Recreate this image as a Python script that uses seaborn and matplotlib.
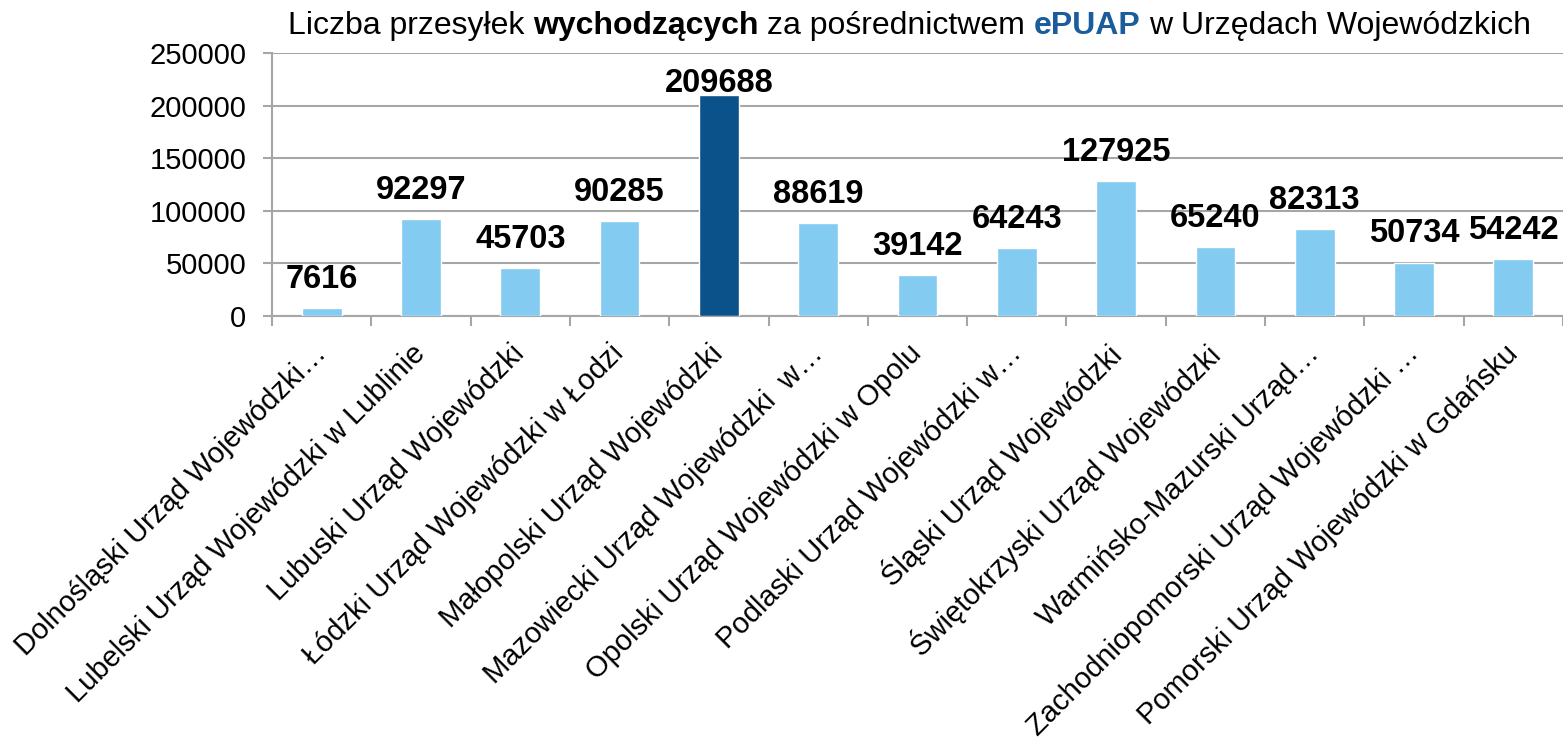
import numpy as np
import pandas as pd
import matplotlib
matplotlib.use("Agg")
import matplotlib.pyplot as plt
import seaborn as sns

# ==============================
# DATA
# ==============================
urzedy = [
    "Dolnośląski Urząd Wojewódzki…",
    "Lubelski Urząd Wojewódzki w Lublinie",
    "Lubuski Urząd Wojewódzki",
    "Łódzki Urząd Wojewódzki w Łodzi",
    "Małopolski Urząd Wojewódzki",
    "Mazowiecki Urząd Wojewódzki  w…",
    "Opolski Urząd Wojewódzki w Opolu",
    "Podlaski Urząd Wojewódzki w…",
    "Śląski Urząd Wojewódzki",
    "Świętokrzyski Urząd Wojewódzki",
    "Warmińsko-Mazurski Urząd…",
    "Zachodniopomorski Urząd Wojewódzki …",
    "Pomorski Urząd Wojewódzki w Gdańsku",
]
przesylki = [7616, 92297, 45703, 90285, 209688, 88619, 39142,
             64243, 127925, 65240, 82313, 50734, 54242]
wyrozniony = "Małopolski Urząd Wojewódzki"

y_ticks = [0, 50000, 100000, 150000, 200000, 250000]

title_parts = [
    ("Liczba przesyłek", "normal", "black"),
    ("wychodzących", "bold", "black"),
    ("za pośrednictwem", "normal", "black"),
    ("ePUAP", "bold", "#1B5D9C"),
    ("w Urzędach Wojewódzkich", "normal", "black"),
]

light_blue = "#83CBF1"
dark_blue = "#0B518A"
grey = "#A6A6A6"

# ==============================
# STYLE
# ==============================
sns.set_theme(style="white")
plt.rcParams['font.family'] = ['Liberation Sans', 'DejaVu Sans']

df = pd.DataFrame({'urzad': urzedy, 'liczba': przesylki})
palette = {u: (dark_blue if u == wyrozniony else light_blue) for u in urzedy}

fig = plt.figure(figsize=(15.63, 7.4), dpi=100)
ax = fig.add_axes([272 / 1563, 1 - 316 / 740, 1 - 272 / 1563, (316 - 53) / 740])

# ==============================
# BARS
# ==============================
sns.barplot(data=df, x='urzad', y='liczba', hue='urzad', palette=palette,
            width=0.4, legend=False, ax=ax, edgecolor='white', linewidth=1,
            saturation=1, zorder=3)

for cont, u, v in zip(ax.containers, urzedy, przesylki):
    pad = -2.5 if u == wyrozniony else 9.5
    ax.bar_label(cont, labels=[str(v)], padding=pad, fontsize=23.5,
                 fontweight='bold', color='black')

# ==============================
# AXES
# ==============================
ax.set_xlim(-0.5, len(urzedy) - 0.5)
ax.set_ylim(0, 250000)
ax.set_yticks(y_ticks)
ax.set_yticklabels([str(t) for t in y_ticks], fontsize=21, color='black')
ax.set_xticks(range(len(urzedy)))
ax.set_xticklabels(urzedy, rotation=45, ha='right', va='center',
                   rotation_mode='anchor', fontsize=21, color='black')
ax.set_xticks(np.arange(-0.5, len(urzedy), 1), minor=True)
ax.tick_params(axis='x', which='major', length=0, pad=24)
ax.tick_params(axis='x', which='minor', length=7, width=1.5, color=grey,
               direction='out', bottom=True)
ax.tick_params(axis='y', length=6.5, width=1.5, color=grey, pad=12,
               direction='out', left=True)
ax.set_xlabel("")
ax.set_ylabel("")

ax.yaxis.grid(True, color=grey, linewidth=1.5)
ax.set_axisbelow(True)
for side in ['top', 'right']:
    ax.spines[side].set_visible(False)
for side in ['left', 'bottom']:
    ax.spines[side].set_color(grey)
    ax.spines[side].set_linewidth(1.5)

# ==============================
# TITLE (mixed styles)
# ==============================
t = ax.annotate(title_parts[0][0], xy=(288 / 1563, 1 - 41 / 740),
                xycoords='figure fraction', va='bottom', ha='left',
                fontsize=23, fontweight=title_parts[0][1],
                color=title_parts[0][2], annotation_clip=False)
for txt, weight, color in title_parts[1:]:
    t = ax.annotate(txt, xy=(1, 0), xycoords=t, xytext=(6.2, 0),
                    textcoords='offset points', va='bottom', ha='left',
                    fontsize=23, fontweight=weight, color=color,
                    annotation_clip=False)

fig.savefig("out.png", dpi=100)
